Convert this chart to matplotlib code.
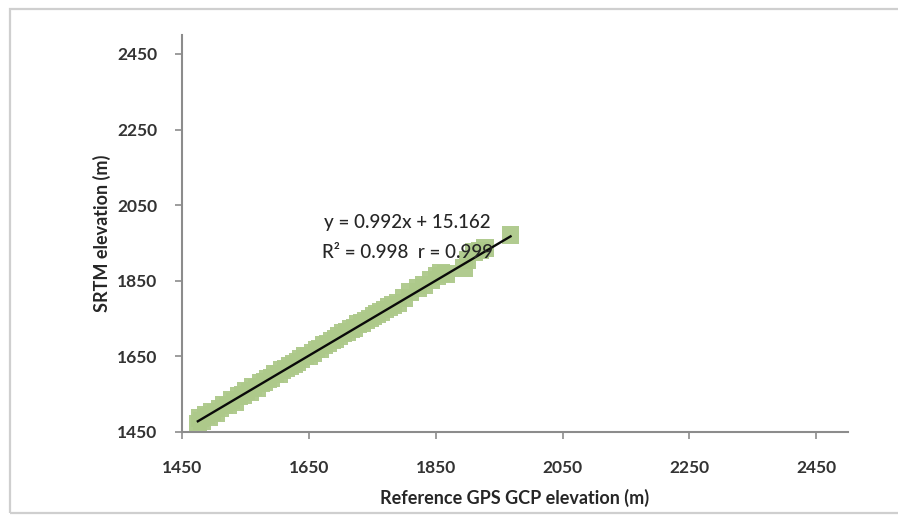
import matplotlib
matplotlib.use("Agg")
import matplotlib.pyplot as plt
from matplotlib.patches import Rectangle
import numpy as np

# ---- data ----
gps_x = [1475, 1478, 1482, 1488, 1492, 1497, 1503, 1510, 1516, 1522, 1528, 1533,
         1540, 1546, 1551, 1557, 1562, 1568, 1574, 1580, 1585, 1591, 1597, 1603,
         1608, 1614, 1620, 1626, 1632, 1638, 1644, 1650, 1656, 1662, 1668, 1674,
         1680, 1686, 1692, 1698, 1704, 1710, 1716, 1722, 1728, 1734, 1740, 1746,
         1752, 1758, 1764, 1770, 1776, 1782, 1790, 1800, 1810, 1822, 1832, 1842,
         1852, 1858, 1866, 1894, 1900, 1910, 1920, 1928, 1968]
srtm_y = [1472, 1488, 1478, 1495, 1490, 1503, 1500, 1512, 1521, 1520, 1534, 1530,
          1546, 1548, 1558, 1556, 1568, 1566, 1580, 1583, 1590, 1592, 1603, 1604,
          1613, 1618, 1624, 1630, 1636, 1642, 1650, 1652, 1660, 1668, 1670, 1680,
          1684, 1692, 1696, 1704, 1712, 1714, 1722, 1726, 1735, 1738, 1745, 1750,
          1757, 1762, 1768, 1774, 1780, 1786, 1792, 1804, 1820, 1831, 1838, 1852,
          1862, 1871, 1868, 1884, 1905, 1926, 1930, 1937, 1971]
slope = 0.992
intercept = 15.162
r2_text = "0.998"
r_text = "0.999"
ticks = [1450, 1650, 1850, 2050, 2250, 2450]
axis_min, axis_max = 1450, 2500

plt.rcParams['font.family'] = ['Lato', 'DejaVu Sans']

fig = plt.figure(figsize=(8.98, 5.15), dpi=100)
fig.patch.set_facecolor('white')

# outer chart border
fig.patches.append(Rectangle((10/898, 2/515), 1.2, 1 - 11/515,
                             transform=fig.transFigure, fill=False,
                             edgecolor='#CFCFCF', linewidth=1.6, zorder=0))

ax = fig.add_axes([182/898, 83/515, 666/898, 397/515])
ax.scatter(gps_x, srtm_y, marker='s', s=165, color='#ADC98A', alpha=0.95,
           edgecolors='none', zorder=2)

xl = np.array([min(gps_x), max(gps_x)])
ax.plot(xl, slope * xl + intercept, color='#0A0A0A', linewidth=1.7, zorder=3)

ax.set_xlim(axis_min, axis_max)
ax.set_ylim(axis_min, axis_max)
ax.set_xticks(ticks)
ax.set_yticks(ticks)
ax.set_xticklabels([str(t) for t in ticks])
ax.set_yticklabels([str(t) for t in ticks])

for s in ['top', 'right']:
    ax.spines[s].set_visible(False)
for s in ['left', 'bottom']:
    ax.spines[s].set_color('#8C8C8C')
    ax.spines[s].set_linewidth(1.5)

ax.tick_params(axis='both', direction='out', length=5, width=1.2,
               color='#8C8C8C', labelcolor='#333333', labelsize=12.5)
ax.tick_params(axis='x', pad=15)
ax.tick_params(axis='y', pad=13)
for lab in ax.get_xticklabels() + ax.get_yticklabels():
    lab.set_fontweight('bold')

ax.set_xlabel('Reference GPS GCP elevation (m)', fontsize=13, fontweight='bold',
              color='#262626', va='center')
ax.xaxis.set_label_coords(0.5, (432 - 498) / 397)
ax.set_ylabel('SRTM elevation (m)', fontsize=13, fontweight='bold',
              color='#262626', va='center')
ax.yaxis.set_label_coords((102 - 182) / 666, 0.5)

ax.text(1674, 2003, f"y = {slope}x + {intercept}", fontsize=13.5, color='#262626',
        ha='left', va='center', zorder=4, fontweight='medium')
ax.text(1671, 1924, f"R² = {r2_text}  r = {r_text}", fontsize=13.5, color='#262626',
        ha='left', va='center', zorder=4, fontweight='medium')

fig.savefig('out.png', dpi=100, facecolor='white')
